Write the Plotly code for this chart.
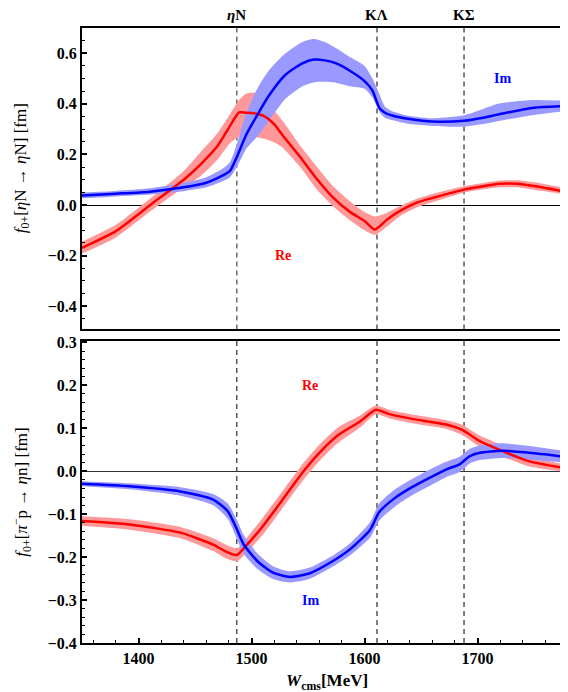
import plotly.graph_objects as go

# ---------------- data: top panel  f0+[eta N -> eta N] ----------------
top_re_x = [1350, 1380, 1410, 1440, 1455, 1470, 1481, 1489, 1495, 1502, 1511, 1520, 1528, 1543,
            1558, 1572, 1587, 1600, 1609, 1620, 1631, 1646, 1661, 1689, 1720, 1735, 1750, 1780]
top_re = [-0.169, -0.103, -0.001, 0.10, 0.161, 0.234, 0.313, 0.366, 0.365, 0.363, 0.352, 0.32, 0.273, 0.19,
          0.102, 0.03, -0.027, -0.063, -0.097, -0.057, -0.024, 0.009, 0.029, 0.062, 0.084, 0.084, 0.075, 0.051]
top_re_hi = [-0.145, -0.078, 0.025, 0.135, 0.21, 0.285, 0.36, 0.415, 0.44, 0.445, 0.425, 0.375, 0.33, 0.235,
             0.15, 0.075, 0.015, -0.028, -0.045, -0.03, -0.005, 0.025, 0.045, 0.075, 0.097, 0.098, 0.09, 0.065]
top_re_lo = [-0.192, -0.128, -0.027, 0.07, 0.115, 0.18, 0.245, 0.27, 0.272, 0.27, 0.262, 0.248, 0.225, 0.15,
             0.06, -0.005, -0.06, -0.1, -0.118, -0.085, -0.045, -0.01, 0.013, 0.05, 0.07, 0.07, 0.06, 0.04]

top_im_x = [1350, 1380, 1410, 1440, 1460, 1475, 1481, 1487, 1495, 1505, 1515, 1530, 1545, 1555, 1565,
            1575, 1587, 1600, 1607, 1613, 1618, 1625, 1640, 1660, 1688, 1705, 1720, 1750, 1780]
top_im = [0.038, 0.045, 0.053, 0.070, 0.088, 0.118, 0.135, 0.19, 0.275, 0.355, 0.43, 0.515, 0.56, 0.575, 0.572,
          0.56, 0.531, 0.49, 0.452, 0.385, 0.365, 0.353, 0.34, 0.33, 0.333, 0.345, 0.36, 0.385, 0.392]
top_im_hi = [0.05, 0.056, 0.066, 0.088, 0.11, 0.145, 0.17, 0.24, 0.36, 0.46, 0.53, 0.6, 0.645, 0.657, 0.645,
             0.62, 0.585, 0.55, 0.5, 0.44, 0.39, 0.37, 0.352, 0.343, 0.355, 0.38, 0.402, 0.415, 0.412]
top_im_lo = [0.027, 0.034, 0.042, 0.055, 0.07, 0.095, 0.11, 0.15, 0.22, 0.27, 0.33, 0.42, 0.47, 0.485, 0.487,
             0.483, 0.47, 0.46, 0.425, 0.37, 0.345, 0.335, 0.32, 0.313, 0.31, 0.32, 0.333, 0.356, 0.372]

# ---------------- data: bottom panel  f0+[pi- p -> eta n] ----------------
bot_re_x = [1350, 1392, 1437, 1466, 1478, 1487, 1496, 1510, 1525, 1546, 1560, 1577, 1596, 1610,
            1622, 1642, 1672, 1686, 1702, 1722, 1746, 1780]
bot_re = [-0.116, -0.124, -0.143, -0.171, -0.188, -0.195, -0.171, -0.128, -0.075, 0.0, 0.043, 0.085, 0.116, 0.143,
          0.133, 0.122, 0.109, 0.097, 0.07, 0.047, 0.023, 0.006]
bot_re_hi = [-0.105, -0.112, -0.13, -0.156, -0.172, -0.18, -0.154, -0.108, -0.055, 0.02, 0.062, 0.103, 0.13, 0.153,
             0.143, 0.132, 0.119, 0.109, 0.083, 0.06, 0.035, 0.014]
bot_re_lo = [-0.127, -0.136, -0.156, -0.186, -0.204, -0.21, -0.188, -0.148, -0.095, -0.02, 0.024, 0.067, 0.102, 0.133,
             0.123, 0.112, 0.099, 0.085, 0.057, 0.034, 0.011, -0.002]

bot_im_x = [1350, 1392, 1437, 1466, 1479, 1487, 1493, 1505, 1519, 1534, 1551, 1572, 1587, 1605,
            1613, 1627, 1642, 1657, 1672, 1684, 1693, 1702, 1722, 1746, 1780]
bot_im = [-0.029, -0.035, -0.047, -0.066, -0.093, -0.135, -0.17, -0.209, -0.236, -0.246, -0.238, -0.209, -0.182,
          -0.136, -0.095, -0.062, -0.037, -0.016, 0.004, 0.016, 0.035, 0.043, 0.048, 0.043, 0.033]
bot_im_hi = [-0.023, -0.028, -0.037, -0.053, -0.075, -0.113, -0.148, -0.191, -0.221, -0.233, -0.225, -0.196, -0.168,
             -0.118, -0.075, -0.042, -0.018, 0.003, 0.022, 0.034, 0.052, 0.06, 0.065, 0.059, 0.046]
bot_im_lo = [-0.035, -0.042, -0.057, -0.079, -0.111, -0.157, -0.192, -0.227, -0.251, -0.259, -0.251, -0.222, -0.196,
             -0.154, -0.115, -0.082, -0.056, -0.035, -0.014, -0.002, 0.018, 0.026, 0.031, 0.027, 0.02]

thresholds = [1487, 1611, 1688]
threshold_labels = ["<i>η</i>N", "KΛ", "KΣ"]

RED, RED_BAND = "#ff0000", "#ff9999"
BLUE, BLUE_BAND = "#0000ff", "#9999ff"
FONT = "Liberation Serif"
SMOOTH = 0.6

fig = go.Figure()


def band(x, lo, hi, color, xa, ya):
    fig.add_trace(go.Scatter(x=x, y=hi, mode="lines",
                             line=dict(width=0, color=color, shape="spline", smoothing=SMOOTH),
                             xaxis=xa, yaxis=ya, showlegend=False, hoverinfo="skip"))
    fig.add_trace(go.Scatter(x=x, y=lo, mode="lines",
                             line=dict(width=0, color=color, shape="spline", smoothing=SMOOTH),
                             fill="tonexty", fillcolor=color,
                             xaxis=xa, yaxis=ya, showlegend=False, hoverinfo="skip"))


def line(x, y, color, xa, ya):
    fig.add_trace(go.Scatter(x=x, y=y, mode="lines",
                             line=dict(width=2.5, color=color, shape="spline", smoothing=SMOOTH),
                             xaxis=xa, yaxis=ya, showlegend=False))


band(top_re_x, top_re_lo, top_re_hi, RED_BAND, "x", "y")
band(top_im_x, top_im_lo, top_im_hi, BLUE_BAND, "x", "y")
line(top_re_x, top_re, RED, "x", "y")
line(top_im_x, top_im, BLUE, "x", "y")

band(bot_re_x, bot_re_lo, bot_re_hi, RED_BAND, "x2", "y2")
band(bot_im_x, bot_im_lo, bot_im_hi, BLUE_BAND, "x2", "y2")
line(bot_re_x, bot_re, RED, "x2", "y2")
line(bot_im_x, bot_im, BLUE, "x2", "y2")

shapes = []
for i, t in enumerate(thresholds):
    shapes.append(dict(type="line", xref="x", yref="y domain", x0=t, x1=t, y0=0, y1=1,
                       line=dict(color="#555555" if i == 0 else "black", width=1.3 if i == 0 else 1,
                                 dash="5px,4px"),
                       layer="below"))
    shapes.append(dict(type="line", xref="x2", yref="y2 domain", x0=t, x1=t, y0=0, y1=1,
                       line=dict(color="black", width=1, dash="5px,4px"), layer="below"))

annotations = []
for t, lab in zip(thresholds, threshold_labels):
    annotations.append(dict(x=t, xref="x", y=1.0215, yref="paper", text="<b>" + lab + "</b>",
                            xanchor="center", yanchor="middle",
                            showarrow=False, font=dict(family=FONT, size=15, color="black")))

annotations += [
    dict(x=1528, y=-0.198, xref="x", yref="y", text="<b>Re</b>", showarrow=False,
         font=dict(family=FONT, size=14, color=RED)),
    dict(x=1722, y=0.50, xref="x", yref="y", text="<b>Im</b>", showarrow=False,
         font=dict(family=FONT, size=14, color=BLUE)),
    dict(x=1552, y=0.20, xref="x2", yref="y2", text="<b>Re</b>", showarrow=False,
         font=dict(family=FONT, size=14, color=RED)),
    dict(x=1552, y=-0.302, xref="x2", yref="y2", text="<b>Im</b>", showarrow=False,
         font=dict(family=FONT, size=14, color=BLUE)),
    dict(x=-0.1235, y=0.772, xref="paper", yref="paper", textangle=-90, showarrow=False,
         xanchor="center", yanchor="middle",
         text="<i>f</i><sub>0+</sub>[<i>η</i>N → <i>η</i>N] [fm]",
         font=dict(family=FONT, size=17, color="black")),
    dict(x=-0.1235, y=0.246, xref="paper", yref="paper", textangle=-90, showarrow=False,
         xanchor="center", yanchor="middle",
         text="<i>f</i><sub>0+</sub>[<i>π</i><sup>−</sup>p → <i>η</i>n] [fm]",
         font=dict(family=FONT, size=17, color="black")),
    dict(x=0.504, y=-0.064, xref="paper", yref="paper", showarrow=False,
         xanchor="center", yanchor="middle",
         text="<b><i>W</i><sub>cms</sub>[MeV]</b>",
         font=dict(family=FONT, size=17, color="black")),
]

xcommon = dict(range=[1350, 1780], showgrid=False, zeroline=False, showline=True, linecolor="black",
               linewidth=2, mirror=True, automargin=False)
# the page body adds an 8px offset, so the figure is 8px smaller than the 568x692 window
fig.update_layout(
    width=560, height=684,
    margin=dict(l=74, r=0, t=20, b=49, autoexpand=False),
    plot_bgcolor="white", paper_bgcolor="white",
    font=dict(family=FONT, size=14, color="black"),
    xaxis=dict(**xcommon, anchor="y", domain=[0, 1], showticklabels=False, ticks=""),
    yaxis=dict(range=[-0.492, 0.7], domain=[0.5098, 1], anchor="x", showgrid=False, automargin=False,
               zeroline=True, zerolinecolor="black", zerolinewidth=1,
               showline=True, linecolor="black", linewidth=2,
               ticks="inside", ticklen=5, tickwidth=1.5, tickcolor="black",
               tick0=0, dtick=0.2, tickformat=".1f",
               minor=dict(ticks="inside", dtick=0.05, ticklen=3, tickwidth=1, tickcolor="black"),
               tickfont=dict(family=FONT, size=16, weight="bold")),
    xaxis2=dict(**xcommon, anchor="y2", domain=[0, 1],
                ticks="inside", ticklen=5, tickwidth=1.5, tickcolor="black",
                tick0=1400, dtick=100,
                minor=dict(ticks="inside", dtick=20, ticklen=3, tickwidth=1, tickcolor="black"),
                tickfont=dict(family=FONT, size=16, weight="bold")),
    yaxis2=dict(range=[-0.4, 0.304], domain=[0, 0.4915], anchor="x2", showgrid=False, automargin=False,
                zeroline=True, zerolinecolor="#333333", zerolinewidth=1,
                showline=True, linecolor="black", linewidth=2,
                ticks="inside", ticklen=5, tickwidth=1.5, tickcolor="black",
                tick0=0, dtick=0.1, tickformat=".1f",
                minor=dict(ticks="inside", dtick=0.02, ticklen=3, tickwidth=1, tickcolor="black"),
                tickfont=dict(family=FONT, size=16, weight="bold")),
    shapes=shapes,
    annotations=annotations,
)

fig.write_html("out.html")
